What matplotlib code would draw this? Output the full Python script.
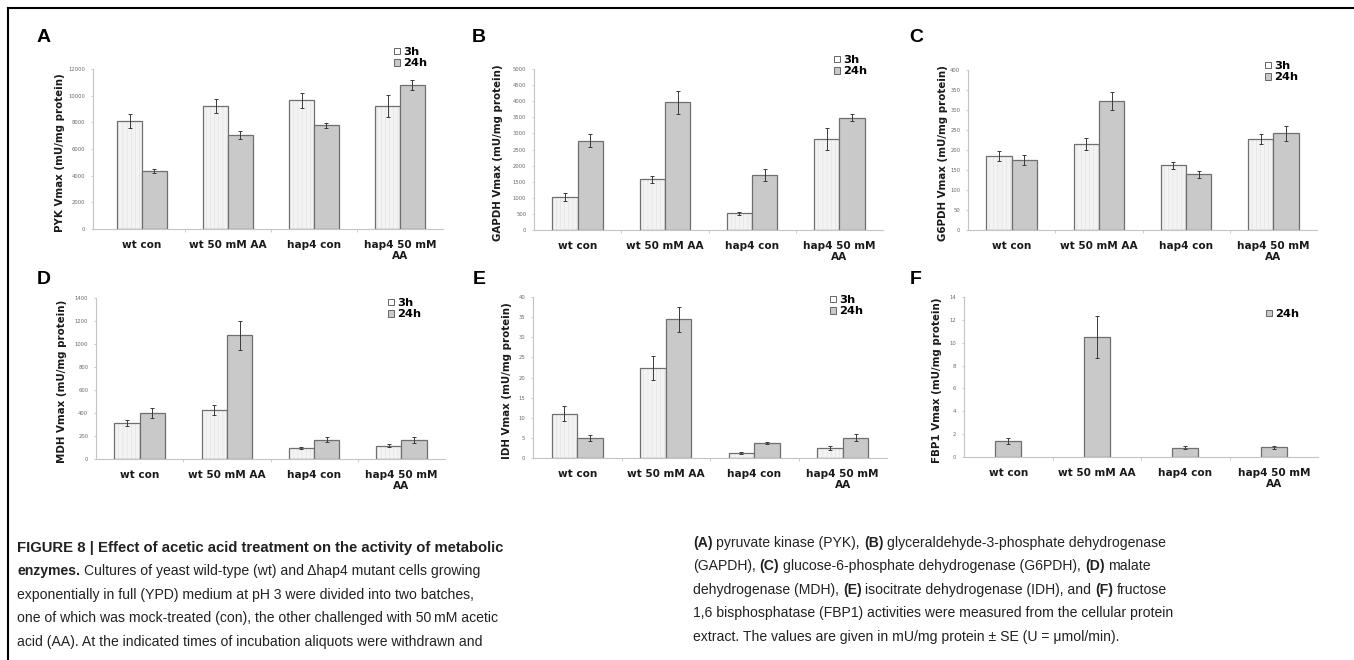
import matplotlib
matplotlib.use("Agg")
import matplotlib.pyplot as plt
from matplotlib.patches import Patch
from matplotlib.lines import Line2D
from matplotlib import font_manager
import numpy as np

W, H = 1354, 660

groups = ["wt con", "wt 50 mM AA", "hap4 con", "hap4 50 mM\nAA"]

# (A) PYK
pyk_3h = [8100, 9200, 9650, 9200]
pyk_3h_err = [500, 520, 550, 820]
pyk_24h = [4380, 7050, 7780, 10800]
pyk_24h_err = [150, 320, 170, 400]
# (B) GAPDH
gapdh_3h = [1015, 1575, 520, 2825]
gapdh_3h_err = [120, 115, 40, 340]
gapdh_24h = [2775, 3965, 1705, 3490]
gapdh_24h_err = [195, 360, 195, 100]
# (C) G6PDH
g6pdh_3h = [185, 215, 162, 227]
g6pdh_3h_err = [13, 14, 9, 12]
g6pdh_24h = [175, 322, 139, 242]
g6pdh_24h_err = [12, 23, 9, 19]
# (D) MDH
mdh_3h = [314, 427, 96, 116]
mdh_3h_err = [23, 45, 12, 15]
mdh_24h = [398, 1076, 169, 163]
mdh_24h_err = [45, 125, 20, 25]
# (E) IDH
idh_3h = [11.0, 22.4, 1.3, 2.5]
idh_3h_err = [1.8, 2.9, 0.3, 0.5]
idh_24h = [4.9, 34.5, 3.8, 5.05]
idh_24h_err = [0.7, 3.1, 0.2, 0.8]
# (F) FBP1 (24h only)
fbp1_24h = [1.4, 10.5, 0.82, 0.85]
fbp1_24h_err = [0.25, 1.8, 0.1, 0.15]

panels = [
    dict(letter="A", ylabel="PYK Vmax (mU/mg protein)", ymax=12000, step=2000,
         s3=pyk_3h, e3=pyk_3h_err, s24=pyk_24h, e24=pyk_24h_err,
         box=(93, 69, 443, 229), x0=-0.07, lab=(37, 38), ylx=65, leg=(394, 47)),
    dict(letter="B", ylabel="GAPDH Vmax (mU/mg protein)", ymax=5000, step=500,
         s3=gapdh_3h, e3=gapdh_3h_err, s24=gapdh_24h, e24=gapdh_24h_err,
         box=(534, 69, 883, 230), x0=0.0, lab=(472, 37), ylx=503, leg=(834, 55)),
    dict(letter="C", ylabel="G6PDH Vmax (mU/mg protein)", ymax=400, step=50,
         s3=g6pdh_3h, e3=g6pdh_3h_err, s24=g6pdh_24h, e24=g6pdh_24h_err,
         box=(968, 70, 1317, 230), x0=0.0, lab=(909, 37), ylx=948, leg=(1265, 61)),
    dict(letter="D", ylabel="MDH Vmax (mU/mg protein)", ymax=1400, step=200,
         s3=mdh_3h, e3=mdh_3h_err, s24=mdh_24h, e24=mdh_24h_err,
         box=(96, 298, 445, 459), x0=0.0, lab=(37, 279), ylx=67, leg=(388, 298)),
    dict(letter="E", ylabel="IDH Vmax (mU/mg protein)", ymax=40, step=5,
         s3=idh_3h, e3=idh_3h_err, s24=idh_24h, e24=idh_24h_err,
         box=(533, 297, 887, 458), x0=0.0, lab=(473, 279), ylx=512, leg=(830, 295)),
    dict(letter="F", ylabel="FBP1 Vmax (mU/mg protein)", ymax=14, step=2,
         s3=None, e3=None, s24=fbp1_24h, e24=fbp1_24h_err,
         box=(964, 297, 1318, 457), x0=0.0, lab=(910, 279), ylx=942, leg=(1266, 309)),
]

c3 = "#f3f3f3"
c24 = "#c9c9c9"
edge = "#6f6f6f"
plt.rcParams["hatch.linewidth"] = 0.35

fig = plt.figure(figsize=(W / 100, H / 100), dpi=100)


def fx(px):
    return px / W


def fy(py):
    return 1 - py / H


bw = 0.29
x = np.arange(4) + 0.5
for p in panels:
    l, t, r, b = p["box"]
    ax = fig.add_axes([fx(l), fy(b), (r - l) / W, (b - t) / H])
    ax.set_xlim(p["x0"], 4)
    ax.set_ylim(0, p["ymax"])
    ekw = dict(ecolor="#3a3a3a", elinewidth=0.7, capsize=1.6, capthick=0.7)
    if p["s3"] is not None:
        ax.bar(x - bw / 2, p["s3"], bw, color=c3, edgecolor="#dedede", hatch="||||",
               linewidth=0, zorder=2)
        ax.bar(x - bw / 2, p["s3"], bw, fill=False, edgecolor=edge, linewidth=0.9,
               zorder=3)
        ax.errorbar(x - bw / 2, p["s3"], yerr=p["e3"], fmt="none", zorder=4, **ekw)
        ax.bar(x + bw / 2, p["s24"], bw, color=c24, edgecolor=edge, linewidth=0.9,
               zorder=3)
        ax.errorbar(x + bw / 2, p["s24"], yerr=p["e24"], fmt="none", zorder=4, **ekw)
        handles = [Patch(facecolor="white", edgecolor="#666666", linewidth=0.7),
                   Patch(facecolor=c24, edgecolor="#666666", linewidth=0.7)]
        labels = ["3h", "24h"]
    else:
        ax.bar(x, p["s24"], bw * 1.03, color=c24, edgecolor=edge, linewidth=0.9, zorder=3)
        ax.errorbar(x, p["s24"], yerr=p["e24"], fmt="none", zorder=4, **ekw)
        handles = [Patch(facecolor=c24, edgecolor="#666666", linewidth=0.7)]
        labels = ["24h"]

    for s in ["top", "right"]:
        ax.spines[s].set_visible(False)
    for s in ["left", "bottom"]:
        ax.spines[s].set_color("#c4c4c4")
        ax.spines[s].set_linewidth(0.8)
    ax.set_yticks(np.arange(0, p["ymax"] + p["step"] / 2, p["step"]))
    ax.tick_params(axis="y", labelsize=3.8, labelcolor="#6a6a6a", length=1.5,
                   color="#c4c4c4", width=0.6, pad=4)
    ax.set_xticks(x)
    ax.set_xticklabels(groups, fontsize=7.6, fontweight="bold", color="#1a1a1a",
                       linespacing=1.05)
    ax.tick_params(axis="x", length=0, pad=8)
    ax.set_xticks([1, 2, 3], minor=True)
    ax.tick_params(axis="x", which="minor", length=2, color="#c4c4c4", width=0.6)
    ax.set_ylabel(p["ylabel"], fontsize=7.4, fontweight="bold", color="#1a1a1a")
    ax.yaxis.set_label_coords((p["ylx"] - l) / (r - l), 0.48)

    lx, ly = p["leg"]
    ax.legend(handles, labels, loc="upper left",
              bbox_to_anchor=(fx(lx), fy(ly)), bbox_transform=fig.transFigure,
              frameon=False, handlelength=0.55, handleheight=0.55,
              handletextpad=0.25, labelspacing=0.1, borderpad=0, borderaxespad=0,
              prop=dict(weight="bold", size=8.2))

    fig.text(fx(p["lab"][0]), fy(p["lab"][1]), p["letter"], fontsize=14,
             fontweight="bold", family="Liberation Sans", va="center", ha="left")

# frame lines
fig.add_artist(Line2D([fx(8), 1], [fy(8), fy(8)], color="black", lw=1.5))
fig.add_artist(Line2D([fx(8), fx(8)], [fy(8), 0], color="black", lw=1.5))

# caption
names = {f.name for f in font_manager.fontManager.ttflist}
if "Liberation Sans Narrow" in names:
    cap_family, cap_size, title_size = "Liberation Sans Narrow", 11.3, 11.8
else:
    cap_family, cap_size, title_size = "Liberation Sans", 10.1, 10.7

renderer = fig.canvas.get_renderer()


def text_width(s, bold, size):
    t = fig.text(0, 0, s, fontsize=size, family=cap_family,
                 fontweight="bold" if bold else "normal")
    w = t.get_window_extent(renderer).width
    t.remove()
    return w


def draw_runs(x0, y0, runs, size):
    xx = x0
    for s, bold in runs:
        sw = text_width("x x", bold, size) - text_width("xx", bold, size)
        lead = len(s) - len(s.lstrip(" "))
        trail = len(s) - len(s.rstrip(" "))
        core = s.strip(" ")
        xx += lead * sw
        if core:
            t = fig.text(fx(xx), fy(y0), core, fontsize=size, family=cap_family,
                         fontweight="bold" if bold else "normal", va="baseline",
                         ha="left", color="#222222")
            xx += t.get_window_extent(renderer).width
        xx += trail * sw


left_lines = [
    [("FIGURE 8 | Effect of acetic acid treatment on the activity of metabolic", True)],
    [("enzymes.", True), (" Cultures of yeast wild-type (wt) and \u0394hap4 mutant cells growing", False)],
    [("exponentially in full (YPD) medium at pH 3 were divided into two batches,", False)],
    [("one of which was mock-treated (con), the other challenged with 50\u2009mM acetic", False)],
    [("acid (AA). At the indicated times of incubation aliquots were withdrawn and", False)],
]
right_lines = [
    [("(A)", True), (" pyruvate kinase (PYK), ", False), ("(B)", True),
     (" glyceraldehyde-3-phosphate dehydrogenase", False)],
    [("(GAPDH), ", False), ("(C)", True), (" glucose-6-phosphate dehydrogenase (G6PDH), ", False),
     ("(D)", True), (" malate", False)],
    [("dehydrogenase (MDH), ", False), ("(E)", True),
     (" isocitrate dehydrogenase (IDH), and ", False), ("(F)", True), (" fructose", False)],
    [("1,6 bisphosphatase (FBP1) activities were measured from the cellular protein", False)],
    [("extract. The values are given in mU/mg protein \u00b1 SE (U = \u03bcmol/min).", False)],
]
for i, runs in enumerate(left_lines):
    draw_runs(17, 552 + i * 23.4, runs, title_size if i == 0 else cap_size)
for i, runs in enumerate(right_lines):
    draw_runs(693, 547 + i * 23.4, runs, cap_size)

fig.savefig("out.png", dpi=100)
